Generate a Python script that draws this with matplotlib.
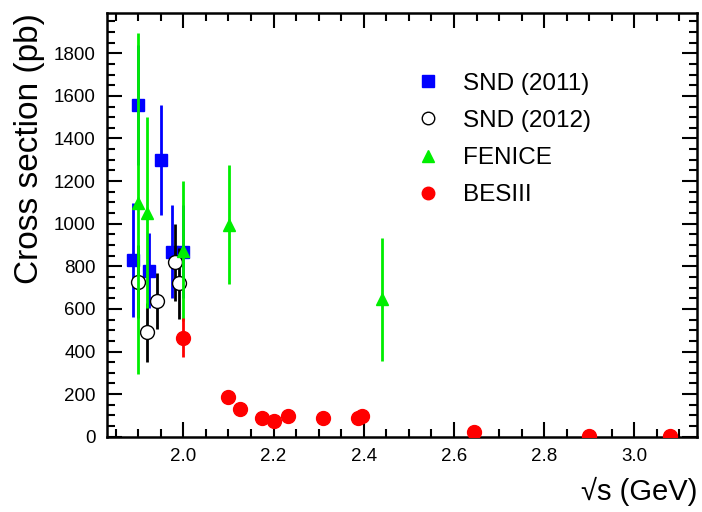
import numpy as np
import matplotlib
matplotlib.use('Agg')
import matplotlib.pyplot as plt
from matplotlib.lines import Line2D
from matplotlib.ticker import MultipleLocator

plt.rcParams['font.family'] = ['Liberation Sans', 'DejaVu Sans']

# SND (2011)
snd11_x = [1.888, 1.899, 1.924, 1.950, 1.974, 2.000]
snd11_y = [828, 1557, 780, 1299, 869, 869]
snd11_e = [268, 280, 176, 258, 218, 220]

# SND (2012)
snd12_x = [1.900, 1.920, 1.941, 1.981, 1.990]
snd12_y = [728, 490, 637, 819, 720]
snd12_e = [170, 140, 130, 180, 165]

# FENICE
fen_x = [1.899, 1.920, 2.000, 2.101, 2.441]
fen_y = [1095, 1052, 872, 995, 645]
fen_e = [800, 448, 330, 280, 290]

# BESIII
bes_x = [2.000, 2.100, 2.125, 2.175, 2.200, 2.2324, 2.3094, 2.3864, 2.396, 2.6454, 2.900, 3.080]
bes_y = [465, 185, 128, 89, 74, 97, 86, 88, 98, 20, 4, 2]
bes_e = [92, 25, 12, 10, 9, 10, 8, 8, 8, 4, 2, 1]

fig = plt.figure(figsize=(7.02, 5.12), dpi=100)
ax = fig.add_axes([0.152, 0.147, 0.841, 0.828])

ax.errorbar(snd11_x, snd11_y, yerr=snd11_e, fmt='s', color='blue', ms=8.5,
            elinewidth=2.0, capsize=0, zorder=2)
ax.errorbar(snd12_x, snd12_y, yerr=snd12_e, fmt='o', color='black', mfc='white',
            mec='black', ms=10, mew=1.0, elinewidth=2.0, capsize=0, zorder=3)
ax.errorbar(fen_x, fen_y, yerr=fen_e, fmt='^', color='#00ee00', ms=9,
            elinewidth=2.0, capsize=0, zorder=4)
ax.errorbar(bes_x, bes_y, yerr=bes_e, fmt='o', color='red', ms=10,
            elinewidth=2.0, capsize=0, zorder=5)

ax.set_xlim(1.83, 3.139)
ax.set_ylim(0, 1990)

ax.xaxis.set_major_locator(MultipleLocator(0.2))
ax.xaxis.set_minor_locator(MultipleLocator(0.05))
ax.yaxis.set_major_locator(MultipleLocator(200))
ax.yaxis.set_minor_locator(MultipleLocator(50))
ax.tick_params(which='both', direction='in', top=True, right=True, labelsize=13.5, width=1.5)
ax.tick_params(which='major', length=11, pad=8)
ax.tick_params(which='minor', length=6)
for s in ax.spines.values():
    s.set_linewidth(1.8)

ax.set_ylabel('Cross section (pb)', fontsize=24, loc='top', labelpad=6)
ax.set_xlabel('√s (GeV)', fontsize=21, loc='right', labelpad=9)

handles = [
    Line2D([], [], marker='s', color='blue', ls='none', ms=8),
    Line2D([], [], marker='o', mfc='white', mec='black', ls='none', ms=9),
    Line2D([], [], marker='^', color='#00ee00', ls='none', ms=9),
    Line2D([], [], marker='o', color='red', ls='none', ms=9),
]
labels = ['SND (2011)', 'SND (2012)', 'FENICE', 'BESIII']
ax.legend(handles, labels, loc='upper left', bbox_to_anchor=(0.466, 0.91),
          frameon=False, fontsize=17.5, handletextpad=0.43, labelspacing=0.62)

fig.savefig('out.png', dpi=100)
